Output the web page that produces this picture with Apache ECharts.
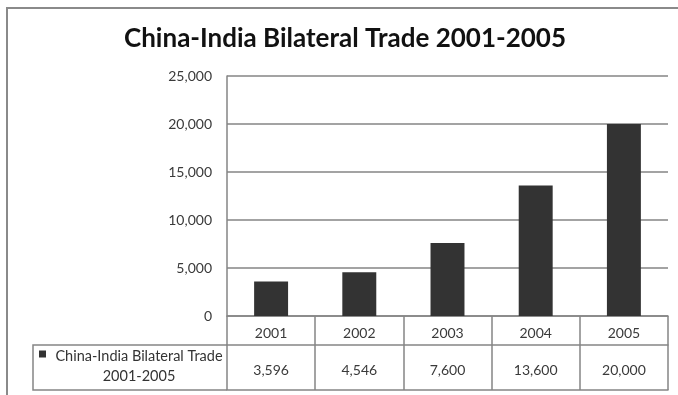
<!DOCTYPE html>
<html>
<head>
<meta charset="utf-8">
<script src="https://cdn.jsdelivr.net/npm/echarts@6/dist/echarts.min.js"></script>
<style>
  html, body { margin: 0; padding: 0; background: #ffffff; }
  #chart { width: 678px; height: 395px; }
</style>
</head>
<body>
<div id="chart"></div>
<script>
// China-India bilateral trade by year
const years = ['2001', '2002', '2003', '2004', '2005'];
const tradeValues = [3596, 4546, 7600, 13600, 20000];
const seriesName = 'China-India Bilateral Trade 2001-2005';
const yTickValues = [0, 5000, 10000, 15000, 20000, 25000];

// layout
const W = 678, H = 395;
const GRID_LEFT = 227, GRID_RIGHT = 10, GRID_TOP = 76, GRID_BOTTOM = 79;
const ROW1 = 29;   // year row height
const ROW2 = 45;   // value row height
const CELL_LEFT = 33;
const LINE = '#858585';
const FONT = 'Lato';

const axisY = H - GRID_BOTTOM;
const fmt = v => v.toLocaleString('en-US');

const chart = echarts.init(document.getElementById('chart'), null, { renderer: 'canvas' });

chart.setOption({
  animation: false,
  backgroundColor: '#ffffff',
  title: {
    text: 'China-India Bilateral Trade 2001-2005',
    left: 119,
    top: 21,
    textStyle: { fontFamily: FONT, fontSize: 26, fontWeight: 'bold', color: '#111111' }
  },
  legend: {
    left: 34,
    top: 324,
    icon: 'rect',
    itemWidth: 7,
    itemHeight: 7,
    itemGap: 0,
    selectedMode: false,
    data: [seriesName],
    // blank first line lifts the two text lines so the swatch sits beside the first one
    formatter: () => '{e| }\n{a|China-India Bilateral Trade}\n{a|2001-2005}',
    textStyle: {
      fontFamily: FONT,
      fontSize: 14,
      color: '#333333',
      rich: {
        e: { lineHeight: 25, fontSize: 10 },
        a: { width: 176, align: 'center', lineHeight: 20, fontFamily: FONT, fontSize: 14.5, color: '#333333' }
      }
    }
  },
  grid: { left: GRID_LEFT, right: GRID_RIGHT, top: GRID_TOP, bottom: GRID_BOTTOM, containLabel: false },
  xAxis: [
    {
      type: 'category',
      data: years,
      position: 'bottom',
      axisLine: { show: true, lineStyle: { color: LINE, width: 1.5 } },
      axisTick: { show: true, interval: 0, length: ROW1, lineStyle: { color: LINE, width: 1.5 } },
      axisLabel: { margin: 10, interval: 0, fontFamily: FONT, fontSize: 14, color: '#3a3a3a' }
    },
    {
      type: 'category',
      data: tradeValues.map(fmt),
      position: 'bottom',
      offset: ROW1,
      axisLine: { show: true, lineStyle: { color: LINE, width: 1.5 } },
      axisTick: { show: true, interval: 0, length: ROW2, lineStyle: { color: LINE, width: 1.5 } },
      axisLabel: { margin: 18, interval: 0, fontFamily: FONT, fontSize: 14, color: '#3a3a3a' }
    },
    {
      type: 'category',
      data: years,
      position: 'bottom',
      offset: ROW1 + ROW2,
      axisLine: { show: true, lineStyle: { color: LINE, width: 1.5 } },
      axisTick: { show: false },
      axisLabel: { show: false }
    }
  ],
  yAxis: {
    type: 'value',
    min: yTickValues[0],
    max: yTickValues[yTickValues.length - 1],
    interval: yTickValues[1] - yTickValues[0],
    axisLine: { show: true, lineStyle: { color: LINE, width: 1.5 } },
    axisTick: { show: false },
    axisLabel: { margin: 15, fontFamily: FONT, fontSize: 14, color: '#3a3a3a', formatter: v => fmt(v) },
    splitLine: { show: true, lineStyle: { color: LINE, width: 1.5 } }
  },
  series: [
    {
      name: seriesName,
      type: 'bar',
      xAxisIndex: 0,
      data: tradeValues,
      barWidth: '38.5%',
      itemStyle: { color: '#333333' }
    }
  ],
  graphic: [
    // outer frame (left and top edges)
    {
      type: 'polyline',
      silent: true,
      shape: { points: [[7, H], [7, 8], [W, 8]] },
      style: { stroke: '#8a8a8a', lineWidth: 2, fill: null }
    },
    // legend cell of the data table
    {
      type: 'polyline',
      silent: true,
      shape: { points: [[GRID_LEFT, axisY + ROW1], [CELL_LEFT, axisY + ROW1], [CELL_LEFT, axisY + ROW1 + ROW2], [GRID_LEFT, axisY + ROW1 + ROW2]] },
      style: { stroke: LINE, lineWidth: 1.5, fill: null }
    }
  ]
});
</script>
</body>
</html>
